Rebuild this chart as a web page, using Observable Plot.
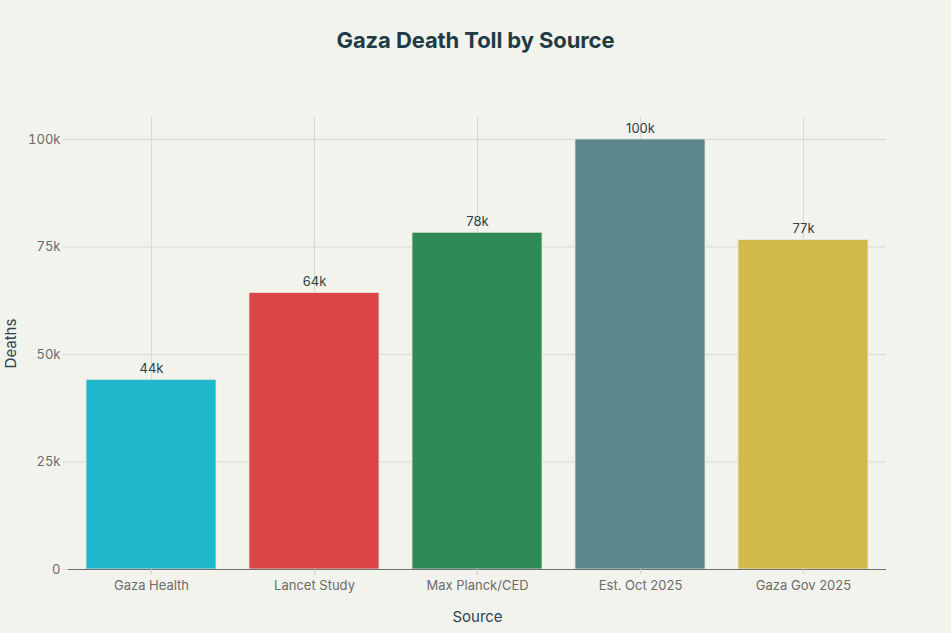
<!DOCTYPE html>
<html>
<head>
<meta charset="utf-8">
<script src="https://cdn.jsdelivr.net/npm/d3@7"></script>
<script src="https://cdn.jsdelivr.net/npm/@observablehq/plot@0.6"></script>
<style>
  html, body { margin: 0; padding: 0; background: #f3f3ee; }
  body { width: 951px; height: 633px; overflow: hidden; font-family: Inter, "Liberation Sans", sans-serif; }
  #title { height: 80px; line-height: 80px; text-align: center; font-size: 22px; font-weight: 700; color: #1f3b45; letter-spacing: -0.1px; }
  #chart svg { display: block; background: transparent; }
</style>
</head>
<body>
<div id="title">Gaza Death Toll by Source</div>
<div id="chart"></div>
<script>
const sources = ["Gaza Health", "Lancet Study", "Max Planck/CED", "Est. Oct 2025", "Gaza Gov 2025"];
const deaths = [44100, 64300, 78300, 100000, 76600];
const colors = ["#1fb8cd", "#db4545", "#2e8b57", "#5d878f", "#d2ba4c"];
const yTicks = [0, 25000, 50000, 75000, 100000];

const data = sources.map((s, i) => ({source: s, deaths: deaths[i], color: colors[i]}));
const fmtK = v => v === 0 ? "0" : Math.round(v / 1000) + "k";

const chart = Plot.plot({
  width: 951,
  height: 553,
  marginTop: 37,
  marginBottom: 64,
  marginLeft: 68,
  marginRight: 65,
  style: {fontFamily: "Inter, 'Liberation Sans', sans-serif", fontSize: "13px", background: "transparent", overflow: "visible"},
  x: {domain: sources, paddingInner: 0.2, paddingOuter: 0.1, label: "Source"},
  y: {domain: [0, 105100], label: "Deaths"},
  marks: [
    Plot.gridX(sources, {stroke: "#d9d9d3", strokeOpacity: 1, strokeWidth: 1}),
    Plot.gridY(yTicks, {stroke: "#d9d9d3", strokeOpacity: 1, strokeWidth: 1}),
    Plot.barY(data, {x: "source", y: "deaths", fill: "color", stroke: "#e6e6df", strokeWidth: 0.8}),
    Plot.ruleY([0], {stroke: "#6f6f6f", strokeWidth: 1}),
    Plot.text(data, {x: "source", y: "deaths", text: d => fmtK(d.deaths), dy: -11, fill: "#2d3f47", fontSize: 13}),
    Plot.axisY(yTicks, {tickSize: 5, stroke: "#d9d9d3", strokeOpacity: 1, tickPadding: 3, tickFormat: fmtK, fill: "#6b6b6b", fontSize: 13,
      label: "Deaths", labelAnchor: "center", labelArrow: "none", labelOffset: 63}),
    Plot.axisX({tickSize: 5, stroke: "#cfcfc9", tickPadding: 6, fill: "#6b6b6b", fontSize: 13,
      label: "Source", labelAnchor: "center", labelArrow: "none", labelOffset: 52})
  ]
});

chart.querySelectorAll("g[aria-label='y-axis label'] text, g[aria-label='x-axis label'] text").forEach(t => {
  t.setAttribute("font-size", "15");
  t.setAttribute("fill", "#2b4650");
  t.style.fontSize = "15px";
  t.style.fill = "#2b4650";
});
document.getElementById("chart").appendChild(chart);
</script>
</body>
</html>
